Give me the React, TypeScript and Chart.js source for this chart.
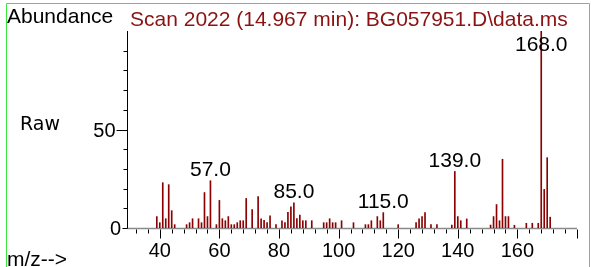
import React, { useEffect, useRef } from 'react';
import { Chart, registerables } from 'chart.js';

Chart.register(...registerables);

const mzValues = [
  39, 40, 41, 42, 43, 44, 45, 49, 50, 51, 53, 54, 55, 56, 57, 59, 60, 61, 62, 63,
  64, 65, 66, 67, 68, 69, 71, 73, 74, 75, 76, 77, 79, 81, 82, 83, 84, 85, 86, 87,
  88, 89, 91, 95, 96, 97, 98, 99, 101, 105, 109, 110, 111, 113, 114, 115, 120, 126, 127, 128,
  129, 131, 133, 138, 139, 140, 141, 143, 151, 152, 153, 154, 155, 156, 157, 159, 163, 165, 167, 168,
  169, 170, 171,
];
const abundances = [
  5.8, 2.7, 23, 4.7, 22, 8.8, 1.7, 1.7, 2.7, 4.7, 4.7, 2.7, 18, 5.8, 24, 1.7, 14, 4.7, 3.7, 5.8,
  1.7, 1.7, 2.7, 3.7, 3.7, 15, 9.3, 16, 4.7, 3.9, 2.7, 6.2, 1.7, 3.7, 2.7, 8, 10.7, 12.8, 4.8, 6.5,
  3.7, 3.7, 3.7, 2.7, 2.7, 4.7, 2.7, 2.7, 3.7, 2.7, 1.7, 1.7, 3.7, 5.8, 3.7, 7.8, 1.7, 2.7, 4.7, 5.8,
  7.8, 1.7, 1.7, 1.5, 28.7, 5.8, 3.7, 4.6, 1.5, 5.8, 11.9, 3.7, 34.9, 5.8, 5.8, 1.4, 2.4, 2.4, 2.4, 100,
  19.6, 35.7, 5.5,
];
const peakLabels = [57, 85, 115, 139, 168];
const xTickLabels = [40, 60, 80, 100, 120, 140, 160];
const yTickLabels = [0, 50];
const titleText = 'Scan 2022 (14.967 min): BG057951.D\\data.ms';
const yAxisTitle = 'Abundance';
const rawText = 'Raw';
const xAxisTitle = 'm/z-->';

const SANS = '"Liberation Sans", Arial, sans-serif';

const decorPlugin = {
  id: 'decor',
  beforeDatasetsDraw(chart: any) {
    const ctx = chart.ctx;
    const xs = chart.scales.x;
    const ys = chart.scales.y;
    const area = chart.chartArea;
    const y0 = Math.round(ys.getPixelForValue(0)) + 0.5;
    const axisX = Math.round(area.left) + 0.5;
    ctx.save();
    // baseline
    ctx.strokeStyle = '#8a8a8a';
    ctx.lineWidth = 1.5;
    ctx.beginPath();
    ctx.moveTo(axisX, y0);
    ctx.lineTo(xs.getPixelForValue(180), y0);
    ctx.stroke();
    // y axis line
    ctx.strokeStyle = '#000';
    ctx.lineWidth = 1;
    ctx.beginPath();
    ctx.moveTo(axisX, Math.round(ys.getPixelForValue(100)));
    ctx.lineTo(axisX, y0);
    ctx.stroke();
    // y ticks
    for (let v = 0; v < 100; v += 10) {
      const py = Math.round(ys.getPixelForValue(v)) + 0.5;
      const len = v === 50 ? 11 : v === 0 ? 5 : 4;
      ctx.beginPath();
      ctx.moveTo(axisX - len, py);
      ctx.lineTo(axisX, py);
      ctx.stroke();
    }
    // x ticks
    for (let v = 32; v <= 180; v += 4) {
      const px = Math.round(xs.getPixelForValue(v)) + 0.5;
      const len = v % 20 === 0 ? 10 : 5;
      ctx.beginPath();
      ctx.moveTo(px, y0 + 1);
      ctx.lineTo(px, y0 + len);
      ctx.stroke();
    }
    // tick labels
    ctx.fillStyle = '#000';
    ctx.font = `20px ${SANS}`;
    ctx.textAlign = 'center';
    ctx.textBaseline = 'alphabetic';
    xTickLabels.forEach((v) => {
      ctx.fillText(String(v), xs.getPixelForValue(v), 257);
    });
    ctx.textAlign = 'right';
    yTickLabels.forEach((v) => {
      const py = ys.getPixelForValue(v);
      ctx.fillText(String(v), v === 0 ? 121 : 115.5, py + 7);
    });
    ctx.restore();
  },
  afterDatasetsDraw(chart: any) {
    const ctx = chart.ctx;
    const xs = chart.scales.x;
    const ys = chart.scales.y;
    const area = chart.chartArea;
    ctx.save();
    ctx.fillStyle = '#000';
    ctx.font = `21px ${SANS}`;
    ctx.textAlign = 'center';
    ctx.textBaseline = 'alphabetic';
    peakLabels.forEach((mz) => {
      const i = mzValues.indexOf(mz);
      const val = abundances[i];
      const px = xs.getPixelForValue(mz);
      const py = ys.getPixelForValue(val);
      const base = Math.max(py - 4.5, area.top + 20);
      ctx.fillText(mz.toFixed(1), px, base);
    });
    // texts
    ctx.textAlign = 'left';
    ctx.fillText(yAxisTitle, 7, 23);
    ctx.fillStyle = '#8b1212';
    ctx.fillText(titleText, 130, 26);
    ctx.fillStyle = '#000';
    ctx.fillText(xAxisTitle, 7, 265.5);
    ctx.font = `19px "DejaVu Sans", sans-serif`;
    ctx.fillText(rawText, 20, 130);
    // green frame
    ctx.strokeStyle = '#3ee63e';
    ctx.lineWidth = 1;
    ctx.beginPath();
    ctx.moveTo(6.5, 300);
    ctx.lineTo(6.5, 3.5);
    ctx.lineTo(589.5, 3.5);
    ctx.lineTo(589.5, 300);
    ctx.stroke();
    ctx.restore();
  },
};

export default function App() {
  const ref = useRef<HTMLCanvasElement>(null);
  useEffect(() => {
    if (!ref.current) return;
    const chart = new Chart(ref.current, {
      type: 'bar',
      data: {
        datasets: [
          {
            data: mzValues.map((mz, i) => ({ x: mz, y: abundances[i] })),
            backgroundColor: '#8b0000',
            borderWidth: 0,
            barThickness: 1,
          },
        ],
      },
      options: {
        animation: false,
        responsive: false,
        devicePixelRatio: 1,
        layout: { padding: { left: 127, right: 14, top: 31, bottom: 39 } },
        scales: {
          x: { type: 'linear', min: 29, max: 180, offset: false, display: false },
          y: { type: 'linear', min: 0, max: 100, display: false },
        },
        plugins: { legend: { display: false }, tooltip: { enabled: false } },
      },
      plugins: [decorPlugin],
    });
    return () => chart.destroy();
  }, []);
  return (
    <div style={{ position: 'fixed', left: 0, top: 0, width: 591, height: 267, background: '#fff' }}>
      <canvas ref={ref} width={591} height={267} style={{ display: 'block', width: 591, height: 267 }} />
    </div>
  );
}
